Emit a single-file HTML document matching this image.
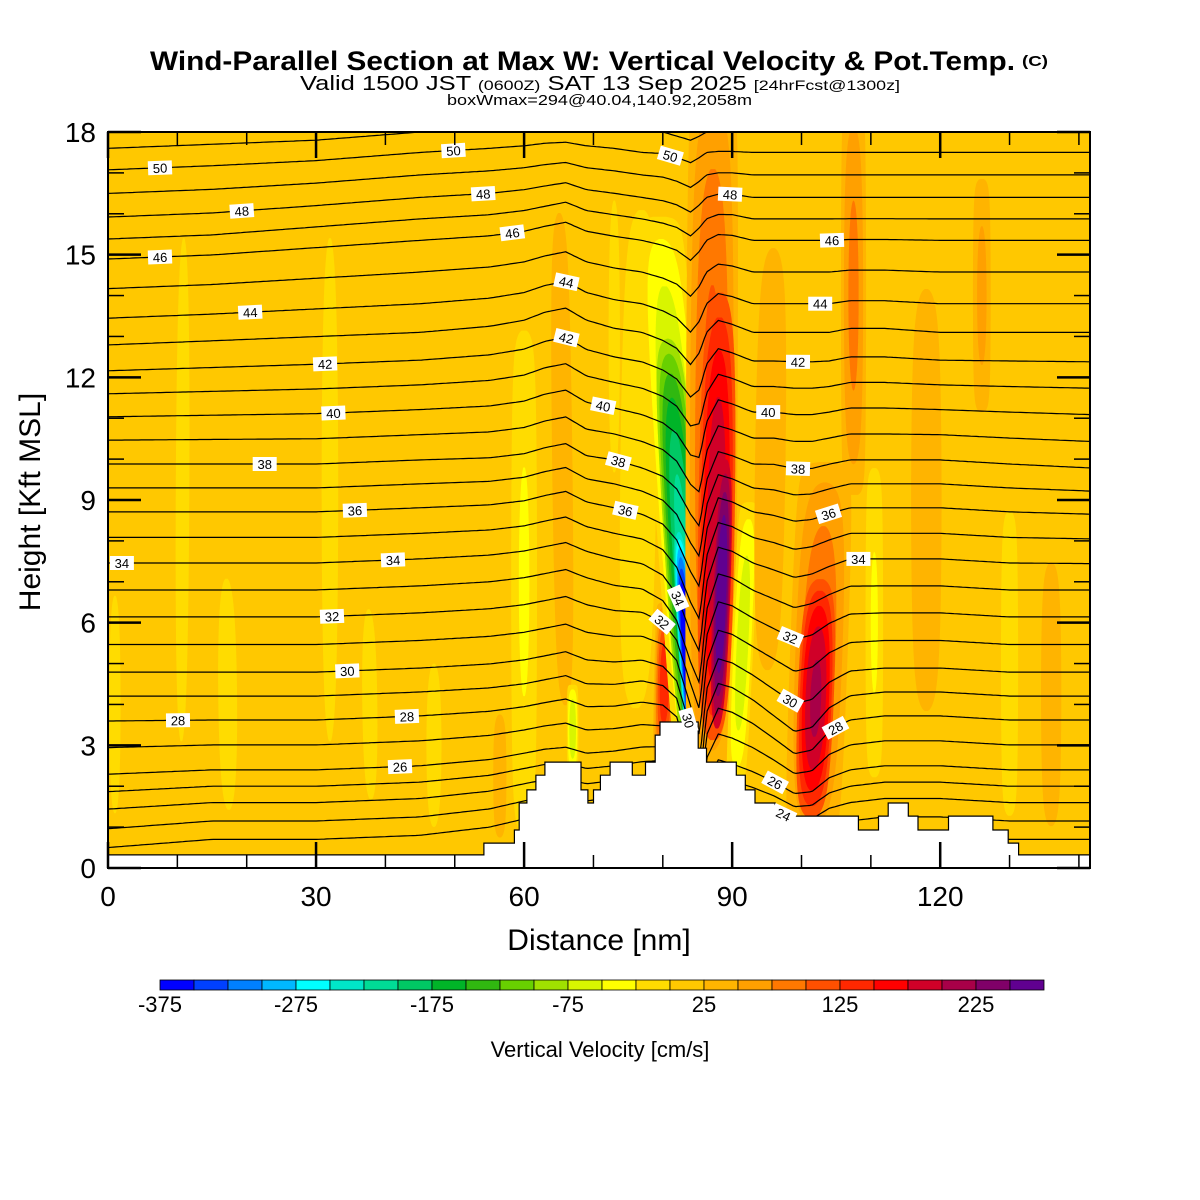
<!DOCTYPE html>
<html><head><meta charset="utf-8"><title>Wind-Parallel Section</title>
<style>html,body{margin:0;padding:0;background:#fff;}svg{display:block;font-family:"Liberation Sans",sans-serif;}</style>
</head><body>
<svg id="chart" xmlns="http://www.w3.org/2000/svg" width="1200" height="1200" viewBox="0 0 1200 1200">
<rect x="0" y="0" width="1200" height="1200" fill="#fff"/>
<g>
<text x="150" y="70" font-size="27" font-weight="bold" textLength="865" lengthAdjust="spacingAndGlyphs">Wind-Parallel Section at Max W: Vertical Velocity &amp; Pot.Temp.</text>
<text x="1022" y="66" font-size="15" font-weight="bold" textLength="26" lengthAdjust="spacingAndGlyphs">(C)</text>
<text x="300" y="90" font-size="20" textLength="600" lengthAdjust="spacingAndGlyphs">Valid 1500 JST <tspan font-size="14">(0600Z)</tspan> SAT 13 Sep 2025 <tspan font-size="14">[24hrFcst@1300z]</tspan></text>
<text x="447" y="105" font-size="15" textLength="305" lengthAdjust="spacingAndGlyphs">boxWmax=294@40.04,140.92,2058m</text>
</g>
<defs><clipPath id="plotclip"><rect x="108" y="132" width="982" height="736"/></clipPath></defs>
<g id="plot" clip-path="url(#plotclip)">
<rect x="108" y="132" width="982" height="736" fill="#ffc800"/>
<g id="field"></g>
<g id="contours"></g>
<g id="terrain"></g>
<g id="labels"></g>
</g>
<rect x="108" y="132" width="982" height="736" fill="none" stroke="#000" stroke-width="2"/>
<g id="axes"></g>
<text x="599" y="950" font-size="30" text-anchor="middle">Distance [nm]</text>
<text transform="translate(40,502) rotate(-90)" font-size="30" text-anchor="middle">Height [Kft MSL]</text>
<g id="colorbar"></g>
<text x="600" y="1057" font-size="22" text-anchor="middle">Vertical Velocity [cm/s]</text>
</svg>
<script>
// ---- data ----
const colors=['#0000ff','#0040ff','#0080ff','#00b8ff','#00ffff','#00e6c8','#00dc96','#00c864','#00b428','#30b810','#68d000','#a0e000','#d8f500','#ffff00','#ffdc00','#ffc800','#ffb400','#ffa000','#ff7800','#ff5000','#ff2800','#ff0000','#d00028','#a80048','#800068','#600090'];
const cbarTicks=[-375,-275,-175,-75,25,125,225];
const xTicks=[0,30,60,90,120];
const yTicks=[0,3,6,9,12,15,18];
const bgW=12;
// plumes of vertical velocity (nm, kft, cm/s)
const plumeX0=[10.5,17.5,32,38,60,56.5,1,76,66,80,85.5,85.4,85.2,86.8,87.2,87.6,90.5,101.5,101.3,107.5,110.5,126,130,95,118,136,67,47,73];
const plumeZ0=[0,0,0,0.5,0.5,0.5,0,3,3,2.6,1.5,1.2,1.0,2.0,2.2,2.4,2.0,0.5,0.8,9,2,11,1,4,3,0.5,2.3,0,8];
const plumeX1=[11,17,32,37.5,60,56.5,1,77,65,80.5,79.5,80.5,82,87.3,88.3,89.3,92.5,103.5,102.8,107.5,110.5,126,130,96,118,136,67,47,73];
const plumeZ1=[18.5,8.5,18.5,7.5,13.5,4,8,17,17,6.5,16,13.5,9,19.5,15,11,9,10,7.5,19,10,17,9,16,15,8,4.5,6,18];
const plumeHW=[1.8,2.5,2.2,2,2.2,1.3,1.5,3.5,2,1.6,3.8,3.2,1.7,4,3.6,2.0,1.7,4.5,3.5,2,1.5,1.5,1.5,3,3,2,0.9,2,1.5];
const plumePeak=[-5,-5,-5,-5,-30,40,-5,-15,40,150,-90,-220,-420,110,200,285,-70,100,210,85,-30,60,-25,40,40,40,-75,-5,-5];
// band floor: bands weaker than this are not drawn (so cores overlay halos cleanly)
const plumeFloor=[0,0,0,0,0,25,0,0,25,25,0,-75,-200,25,100,175,0,25,100,25,0,25,0,25,25,25,0,0,0];
// potential temperature contours
const thetaLevels=[22,23,24,25,26,27,28,29,30,31,32,33,34,35,36,37,38,39,40,41,42,43,44,45,46,47,48,49,50,51,52];
const refLevels=[22,23,24,25,26,28,30,32,34,36,38,40,42,44,46,48,50,52];
const refHeights=[0.7,1.15,1.6,2.0,2.4,3.62,4.79,6.14,7.46,8.71,9.88,11.15,12.4,13.8,15.35,16.4,17.5,18.5];
const dzX=[0,15,30,45,55,60,63,66,69,73,77,80,82,84,85.3,86.3,88,90,93,96,99,101.5,104,107,112,120,130,141.6];
const dzZ=[1,4,7,10,13,16,18];
const dzRow1=[-0.2,0,0,0.1,0.3,0.5,0.6,0.6,0.5,0.6,0.7,0.8,0.6,-0.3,-1.0,-0.2,0.2,0.1,0,-0.1,-0.3,-0.3,-0.1,0,0.1,0.1,0,0];
const dzRow4=[0,0,0,0.1,0.2,0.3,0.4,0.5,0.3,0.3,0.4,0.3,0,-1.2,-2.2,-0.4,0.3,0.2,-0.1,-0.5,-0.9,-0.8,-0.3,0,0.1,0.1,0,0];
const dzRow7=[0,0,0,0.1,0.2,0.3,0.4,0.5,0.3,0.1,0,-0.3,-0.8,-1.8,-2.3,-0.5,0.4,0.3,0,-0.2,-0.4,-0.3,-0.1,0.1,0.1,0.1,0,0];
const dzRow10=[0,0,0,0.1,0.15,0.25,0.4,0.5,0.2,0.1,-0.1,-0.3,-0.6,-1.2,-1.5,-0.4,0.3,0.2,0,0,-0.1,-0.1,0,0.1,0.1,0.1,0,-0.1];
const dzRow13=[-0.3,-0.2,-0.1,0,0.15,0.3,0.5,0.6,0.3,0.1,0,-0.2,-0.4,-0.8,-0.5,0,0.3,0.2,0,0,0,0,0,0.1,0.1,0,0,0];
const dzRow16=[-0.5,-0.4,-0.2,0,0.1,0.2,0.3,0.4,0.2,0.1,0,-0.1,-0.2,-0.4,-0.2,0,0.1,0.1,0,0,0,0,0,0,0,0,0,0];
const dzRow18=[-0.4,-0.3,-0.2,0,0.1,0.15,0.2,0.2,0.15,0.1,0,0,-0.1,-0.2,-0.1,0,0,0,0,0,0,0,0,0,0,0,0,0];
const labelLevel=[50,50,50,48,48,48,46,46,46,44,44,44,42,42,42,40,40,40,38,38,38,36,36,36,34,34,34,34,32,32,32,30,30,30,28,28,28,26,26,24];
const labelX=[7.5,49.8,81.1,19.3,54.1,89.7,7.5,58.3,104.4,20.5,66.1,102.7,31.3,66.1,99.5,32.5,71.4,95.2,22.6,73.6,99.5,35.6,74.6,103.9,2.0,41.1,82.2,108.2,32.3,79.9,98.4,34.5,83.7,98.4,10.1,43.1,104.9,42.1,96.2,97.4];
// terrain steps: start distance (nm) and height (kft)
const terrainStart=[0,54.2,58.6,59.3,60.4,61.7,63.0,68.2,69.2,70.0,71.0,72.4,75.6,77.5,78.9,79.6,85.1,86.3,90.6,91.9,93.3,96.2,108.2,111.1,112.5,115.4,116.8,121.2,127.6,129.8,131.3];
const terrainHeight=[0.32,0.61,0.93,1.59,1.91,2.27,2.59,1.91,1.59,1.91,2.27,2.59,2.27,2.59,3.25,3.57,2.93,2.59,2.27,1.91,1.59,1.27,0.93,1.27,1.59,1.27,0.93,1.27,0.93,0.61,0.32];

// ---- scales ----
const XMAX=141.6;
const X=nm=>108+nm*(982/XMAX);
const Y=k=>868-k*(736/18);
const NS='http://www.w3.org/2000/svg';
function mk(tag,attrs,parent){const e=document.createElementNS(NS,tag);for(const k in attrs)e.setAttribute(k,attrs[k]);parent.appendChild(e);return e;}
function col(v){let i=Math.floor((v+375)/25);i=Math.max(0,Math.min(colors.length-1,i));return colors[i];}
function interp(xs,ys,x){if(x<=xs[0])return ys[0];for(let i=1;i<xs.length;i++){if(x<=xs[i]){const f=(x-xs[i-1])/(xs[i]-xs[i-1]);return ys[i-1]+f*(ys[i]-ys[i-1]);}}return ys[ys.length-1];}

// ---- field ----
const field=document.getElementById('field');
for(let p=0;p<plumePeak.length;p++){
  const peak=plumePeak[p],bounds=[];
  if(peak>bgW){for(let b=25;b<peak;b+=25)if(b>=plumeFloor[p])bounds.push([b,col(b+0.5)]);}
  else{for(let b=0;b>peak;b-=25)if(b<=plumeFloor[p])bounds.push([b,col(b-0.5)]);}
  bounds.forEach(([b,c])=>{
    const f=(b-bgW)/(peak-bgW);const L=[],R=[];
    for(let i=0;i<=400;i++){const t=i/400;const A=Math.pow(Math.sin(Math.PI*t),0.5);if(A<=f)continue;
      const w=plumeHW[p]*Math.sqrt(1-f/A);const cx=plumeX0[p]+(plumeX1[p]-plumeX0[p])*t;const cz=plumeZ0[p]+(plumeZ1[p]-plumeZ0[p])*t;
      L.push(X(cx-w).toFixed(1)+','+Y(cz).toFixed(1));R.unshift(X(cx+w).toFixed(1)+','+Y(cz).toFixed(1));}
    if(L.length<2)return;
    const poly=mk('polygon',{points:L.concat(R).join(' '),fill:c},field);
    
    
  });
}

// ---- contours ----
const dzRows=[dzRow1,dzRow4,dzRow7,dzRow10,dzRow13,dzRow16,dzRow18];
function dz(x,z){const vals=dzRows.map(r=>interp(dzX,r,x));return interp(dzZ,vals,z);}
function thetaHeight(level,x){const h0=interp(refLevels,refHeights,level);return h0+dz(x,h0);}
const cg=document.getElementById('contours');
thetaLevels.forEach(L=>{
  const pts=[];for(let x=0;x<=XMAX+0.01;x+=0.4)pts.push(X(x).toFixed(1)+','+Y(thetaHeight(L,x)).toFixed(1));
  const pl=mk('polyline',{points:pts.join(' '),fill:'none',stroke:'#000','stroke-width':1.2},cg);
  
  
});

// ---- terrain ----
const tg=document.getElementById('terrain');
let tp=[X(0)+','+Y(0)];
for(let i=0;i<terrainStart.length;i++){const x0=terrainStart[i],x1=i+1<terrainStart.length?terrainStart[i+1]:XMAX;
  tp.push(X(x0).toFixed(1)+','+Y(terrainHeight[i]).toFixed(1));tp.push(X(x1).toFixed(1)+','+Y(terrainHeight[i]).toFixed(1));}
tp.push(X(XMAX)+','+Y(0));
const terr=mk('polygon',{points:tp.join(' '),fill:'#fff',stroke:'#000','stroke-width':1.2},tg);



// ---- contour labels ----
const lg=document.getElementById('labels');
for(let i=0;i<labelLevel.length;i++){
  const x=labelX[i],L=labelLevel[i];const px=X(x),py=Y(thetaHeight(L,x));
  const ang=Math.atan2(Y(thetaHeight(L,x+0.8))-Y(thetaHeight(L,x-0.8)),X(x+0.8)-X(x-0.8))*180/Math.PI;
  const g=mk('g',{transform:`translate(${px.toFixed(1)},${py.toFixed(1)}) rotate(${ang.toFixed(1)})`},lg);
  
  
  mk('rect',{x:-12,y:-7,width:24,height:14,fill:'#fff'},g);
  mk('text',{x:0,y:5,'font-size':13,'text-anchor':'middle'},g).textContent=String(L);
}

// ---- axes ----
const ag=document.getElementById('axes');
for(let v=0;v<=140;v+=10){const major=v%30===0;const len=major?26:13;const x=X(v);
  const t1=mk('line',{x1:x,y1:868,x2:x,y2:868-len,stroke:'#000','stroke-width':major?2.5:1.5},ag);
  
  
  const t2=mk('line',{x1:x,y1:132,x2:x,y2:132+len,stroke:'#000','stroke-width':major?2.5:1.5},ag);
  
  }
xTicks.forEach(v=>{const t=mk('text',{x:X(v),y:906,'font-size':28,'text-anchor':'middle'},ag);t.textContent=v;
  
  });
for(let v=0;v<=18;v+=1){const major=v%3===0;const len=major?33:16;const y=Y(v);
  const t1=mk('line',{x1:108,y1:y,x2:108+len,y2:y,stroke:'#000','stroke-width':major?2.5:1.5},ag);
  
  
  const t2=mk('line',{x1:1090,y1:y,x2:1090-len,y2:y,stroke:'#000','stroke-width':major?2.5:1.5},ag);
  
  }
yTicks.forEach(v=>{const t=mk('text',{x:96,y:Y(v)+10,'font-size':28,'text-anchor':'end'},ag);t.textContent=v;
  
  });

// ---- colorbar ----
const cb=document.getElementById('colorbar');
const cbX=v=>160+(v+375)/25*34;
colors.forEach((c,i)=>{const r=mk('rect',{x:cbX(-375+i*25),y:980,width:34,height:10,fill:c,stroke:'#000','stroke-width':0.8},cb);
  
  });
cbarTicks.forEach(v=>{const t=mk('text',{x:cbX(v),y:1012,'font-size':22,'text-anchor':'middle'},cb);t.textContent=v;
  
  });
</script>
</body></html>
